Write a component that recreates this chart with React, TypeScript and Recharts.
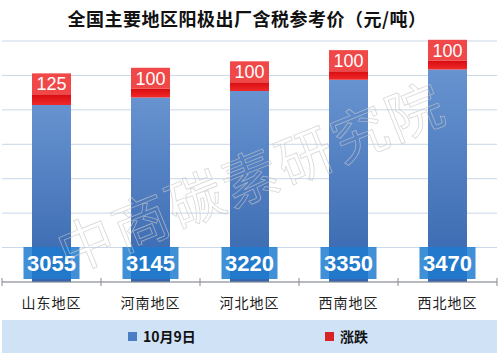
import React from 'react';
import { BarChart, Bar, XAxis, YAxis, CartesianGrid, Legend, LabelList } from 'recharts';

const regions = ['山东地区', '河南地区', '河北地区', '西南地区', '西北地区'];
const prices = [3055, 3145, 3220, 3350, 3470];
const changes = [125, 100, 100, 100, 100];
const yTicks = [1000, 1400, 1800, 2200, 2600, 3000, 3400, 3800];

const data = regions.map((name, i) => ({
  name,
  price: prices[i],
  change: changes[i],
  changeRange: [prices[i], prices[i] + changes[i]],
}));

const CJK = '"Noto Sans CJK SC", "Noto Sans", sans-serif';
const NUM = '"Liberation Sans", Arial, sans-serif';

const PriceLabel = (props: any) => {
  const { x, y, width, height, value } = props;
  const cx = x + width / 2;
  const bottom = y + height;
  return (
    <g>
      <rect x={cx - 28} y={bottom - 35} width={56} height={32} fill="#1F7DD0" fillOpacity={0.85} />
      <text x={cx} y={bottom - 19} textAnchor="middle" dominantBaseline="central" fill="#fff"
        fontSize={22} fontWeight="bold" fontFamily={NUM}>{value}</text>
    </g>
  );
};

const ChangeLabel = (props: any) => {
  const { x, y, width, value } = props;
  return (
    <g>
      <rect x={x} y={y - 21} width={width} height={21} fill="#F04848" />
      <text x={x + width / 2} y={y - 10} textAnchor="middle" dominantBaseline="central" fill="#fff"
        fontSize={18} fontFamily={NUM}>{value}</text>
    </g>
  );
};

const AxisTick = (props: any) => {
  const { x, y, payload, index } = props;
  const half = payload.offset || 49.5;
  return (
    <g>
      <line x1={x - half} x2={x - half} y1={y - 4} y2={y + 4} stroke="#8a8a8a" />
      {index === regions.length - 1 && (
        <line x1={x + half} x2={x + half} y1={y - 4} y2={y + 4} stroke="#8a8a8a" />
      )}
      <text x={x} y={y + 20} textAnchor="middle" dominantBaseline="central" fill="#222"
        fontSize={14} fontFamily={CJK} letterSpacing={1}>{payload.value}</text>
    </g>
  );
};

const LegendBox = () => (
  <div style={{ position: 'relative', width: 495, height: 33, background: '#CFE2F6', fontFamily: CJK }}>
    <span style={{ position: 'absolute', left: 126, top: 12, width: 9, height: 9, background: '#4A7DC3' }} />
    <span style={{ position: 'absolute', left: 141, top: 6, fontSize: 14, fontWeight: 'bold', color: '#111', lineHeight: '20px' }}>10月9日</span>
    <span style={{ position: 'absolute', left: 323, top: 12, width: 9, height: 9, background: '#D92323' }} />
    <span style={{ position: 'absolute', left: 338, top: 6, fontSize: 14, fontWeight: 'bold', color: '#111', lineHeight: '20px' }}>涨跌</span>
  </div>
);

export default function App() {
  return (
    <div style={{ position: 'absolute', left: 0, top: 0, width: 500, height: 357, background: '#fff', overflow: 'hidden' }}>
      <div style={{ position: 'absolute', left: 0, top: 6, width: 494, textAlign: 'center', fontFamily: CJK,
        fontSize: 18, fontWeight: 'bold', color: '#111', lineHeight: '24px', letterSpacing: 0.5 }}>
        全国主要地区阳极出厂含税参考价（元/吨）
      </div>
      <BarChart width={500} height={357} data={data} margin={{ top: 41, right: 3, left: 2, bottom: 35 }}
        barSize={39} barGap={-39}>
        <defs>
          <linearGradient id="blueGrad" x1="0" y1="0" x2="0" y2="1">
            <stop offset="0%" stopColor="#6793D0" />
            <stop offset="100%" stopColor="#3766AE" />
          </linearGradient>
          <linearGradient id="redGrad" x1="0" y1="0" x2="0" y2="1">
            <stop offset="0%" stopColor="#D80C10" />
            <stop offset="100%" stopColor="#F02A2A" />
          </linearGradient>
        </defs>
        <CartesianGrid vertical={false} stroke="#C9D7E8" />
        <XAxis dataKey="name" height={40} tickSize={0} tickMargin={0} tickLine={false}
          axisLine={{ stroke: '#8a8a8a' }} tick={<AxisTick />} interval={0} />
        <YAxis hide domain={[1000, 3800]} ticks={yTicks} />
        <Legend layout="horizontal" verticalAlign="middle" align="center" content={<LegendBox />}
          wrapperStyle={{ left: 2, top: 320, width: 495, height: 33 }} />
        <Bar dataKey="price" fill="url(#blueGrad)" isAnimationActive={false}>
          <LabelList dataKey="price" content={<PriceLabel />} />
        </Bar>
        <Bar dataKey="changeRange" fill="url(#redGrad)" isAnimationActive={false}>
          <LabelList dataKey="change" content={<ChangeLabel />} />
        </Bar>
      </BarChart>
      <svg width={500} height={357} style={{ position: 'absolute', left: 0, top: 0, pointerEvents: 'none' }}>
        <text x={250} y={174} textAnchor="middle" dominantBaseline="central" transform="rotate(-22 250 174)"
          fontSize={56} fontFamily={CJK} fill="none" stroke="rgba(200,200,200,0.7)" strokeWidth={0.8}
          letterSpacing={3}>中商碳素研究院</text>
      </svg>
    </div>
  );
}
